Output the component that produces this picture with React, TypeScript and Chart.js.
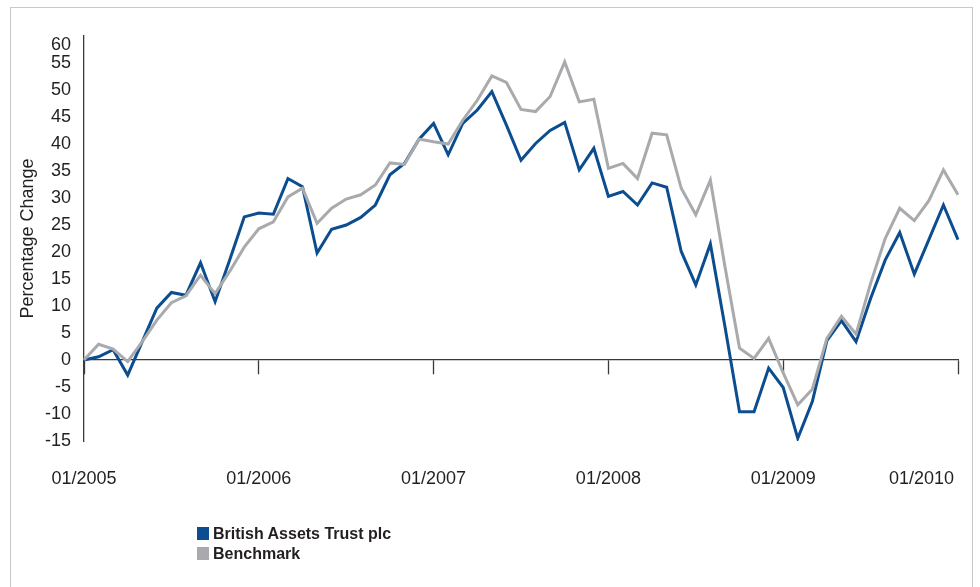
import React, { useEffect, useRef } from 'react';
import { Chart, registerables } from 'chart.js';

Chart.register(...registerables);

// ---- data ----
const years = [2005, 2006, 2007, 2008, 2009];
const monthLabels: string[] = [];
years.forEach((y) => {
  for (let m = 1; m <= 12; m++) monthLabels.push(`${m < 10 ? '0' + m : m}/${y}`);
});
monthLabels.push('01/2010');

const britishAssets = [
  0, 0.6, 1.9, -2.8, 3.4, 9.6, 12.5, 12.0, 18.0, 10.8,
  18.5, 26.5, 27.2, 27.0, 33.6, 32.1, 19.8, 24.2, 25.0, 26.4,
  28.7, 34.3, 36.4, 40.9, 43.8, 38.0, 43.8, 46.3, 49.7, 43.5,
  37.0, 40.1, 42.5, 44.0, 35.2, 39.2, 30.3, 31.2, 28.7, 32.8,
  32.0, 20.1, 13.9, 21.5, 6.2, -9.6, -9.6, -1.5, -5.1, -14.5,
  -7.7, 3.6, 7.3, 3.4, 11.4, 18.5, 23.6, 15.9, 22.3, 28.7, 22.3,
];

const benchmark = [
  0, 2.9, 2.0, -0.3, 3.4, 7.4, 10.6, 11.9, 15.7, 12.3,
  16.4, 20.9, 24.3, 25.6, 30.2, 31.8, 25.3, 28.1, 29.8, 30.6,
  32.4, 36.5, 36.2, 40.9, 40.4, 40.0, 44.4, 48.1, 52.6, 51.4,
  46.4, 46.0, 48.8, 55.2, 47.8, 48.3, 35.5, 36.4, 33.6, 42.0,
  41.7, 31.8, 26.9, 33.3, 17.3, 2.2, 0.3, 4.0, -2.4, -8.3,
  -5.4, 4.0, 8.1, 4.8, 14.2, 22.5, 28.1, 25.8, 29.5, 35.2, 30.6,
];

const xTickLabels = ['01/2005', '01/2006', '01/2007', '01/2008', '01/2009', '01/2010'];
const xTickIndices = [0, 12, 24, 36, 48, 60];
const yTickValues = [-15, -10, -5, 0, 5, 10, 15, 20, 25, 30, 35, 40, 45, 50, 55, 60];
const yTickLabels = ['-15', '-10', '-5', '0', '5', '10', '15', '20', '25', '30', '35', '40', '45', '50', '55', '60'];

// ---- style ----
const BLUE = '#0b4d8f';
const GRAY = '#a9aaad';
const AXIS = '#3a3a3a';
const TEXT = '#231f20';
const FONT = '"Liberation Sans", Arial, Helvetica, sans-serif';
const LAST_X_LABEL_SHIFT = 2.5; // last label pulled inward to fit
const TOP_Y_LABEL_SHIFT = 1.7; // top label pulled down to fit

export default function App() {
  const ref = useRef<HTMLCanvasElement>(null);

  useEffect(() => {
    const chart = new Chart(ref.current as HTMLCanvasElement, {
      type: 'line',
      data: {
        labels: monthLabels,
        datasets: [
          {
            label: 'British Assets Trust plc',
            data: britishAssets,
            borderColor: BLUE,
            backgroundColor: BLUE,
            borderWidth: 3,
            pointRadius: 0,
            tension: 0,
            order: 1,
            xAxisID: 'x',
            yAxisID: 'y',
          },
          {
            label: 'Benchmark',
            data: benchmark,
            borderColor: GRAY,
            backgroundColor: GRAY,
            borderWidth: 3,
            pointRadius: 0,
            tension: 0,
            order: 0,
            xAxisID: 'x',
            yAxisID: 'y',
          },
        ],
      },
      options: {
        animation: false,
        responsive: false,
        devicePixelRatio: 1,
        events: [],
        layout: { padding: { left: 0, top: 36, right: 22, bottom: 86 } },
        plugins: { legend: { display: false }, tooltip: { enabled: false } },
        scales: {
          x: {
            type: 'category',
            position: { y: 0 } as any,
            offset: false,
            grid: {
              display: true,
              drawOnChartArea: false,
              drawTicks: true,
              tickLength: 14,
              tickWidth: 1.3,
              tickColor: (c: any) => (xTickIndices.includes(c.index) ? AXIS : 'rgba(0,0,0,0)'),
            },
            border: { display: true, color: AXIS, width: 1.3 },
            ticks: { display: false, autoSkip: false },
          },
          xl: {
            type: 'linear',
            axis: 'x',
            position: 'bottom',
            min: 0,
            max: monthLabels.length - 1,
            grid: { display: false },
            border: { display: false },
            afterBuildTicks: (s: any) => {
              s.ticks = xTickIndices.map((v, i) => ({
                value: i === xTickIndices.length - 1 ? v - LAST_X_LABEL_SHIFT : v,
              }));
            },
            afterFit: (s: any) => {
              s.height = 60;
            },
            ticks: {
              autoSkip: false,
              maxRotation: 0,
              padding: 19,
              color: TEXT,
              font: { family: FONT, size: 18 },
              callback: (_v: any, i: number) => xTickLabels[i],
            },
          } as any,
          y: {
            type: 'linear',
            min: -15,
            max: 60,
            grid: { display: false },
            border: { display: true, color: AXIS, width: 1.3 },
            afterBuildTicks: (s: any) => {
              s.ticks = yTickValues.map((v, i) => ({
                value: i === yTickValues.length - 1 ? v - TOP_Y_LABEL_SHIFT : v,
              }));
            },
            afterFit: (s: any) => {
              s.width = 84;
            },
            ticks: {
              padding: 5,
              color: TEXT,
              font: { family: FONT, size: 18 },
              callback: (_v: any, i: number) => yTickLabels[i],
            },
            title: {
              display: true,
              text: 'Percentage Change',
              color: TEXT,
              font: { family: FONT, size: 18 },
              padding: { top: 17, bottom: 0 },
            },
          },
        },
      },
    });
    return () => chart.destroy();
  }, []);

  const legendItems = [
    { label: 'British Assets Trust plc', color: BLUE },
    { label: 'Benchmark', color: GRAY },
  ];

  return (
    <div
      style={{
        position: 'absolute',
        left: 0,
        top: 0,
        width: 980,
        height: 587,
        overflow: 'hidden',
        background: '#fff',
      }}
    >
      <div
        style={{
          position: 'absolute',
          left: 10,
          top: 7,
          width: 963,
          height: 620,
          border: '1px solid #c9c9c9',
          boxSizing: 'border-box',
        }}
      />
      <canvas ref={ref} width={980} height={587} style={{ position: 'absolute', left: 0, top: 0 }} />
      {legendItems.map((it, i) => (
        <div
          key={it.label}
          style={{
            position: 'absolute',
            left: 197,
            top: 524 + i * 19.5,
            height: 19.5,
            display: 'flex',
            alignItems: 'center',
            fontFamily: FONT,
            fontWeight: 'bold',
            fontSize: 16,
            lineHeight: '19.5px',
            color: TEXT,
            whiteSpace: 'nowrap',
          }}
        >
          <span style={{ display: 'inline-block', width: 12, height: 13, background: it.color, marginRight: 4 }} />
          <span>{it.label}</span>
        </div>
      ))}
    </div>
  );
}
